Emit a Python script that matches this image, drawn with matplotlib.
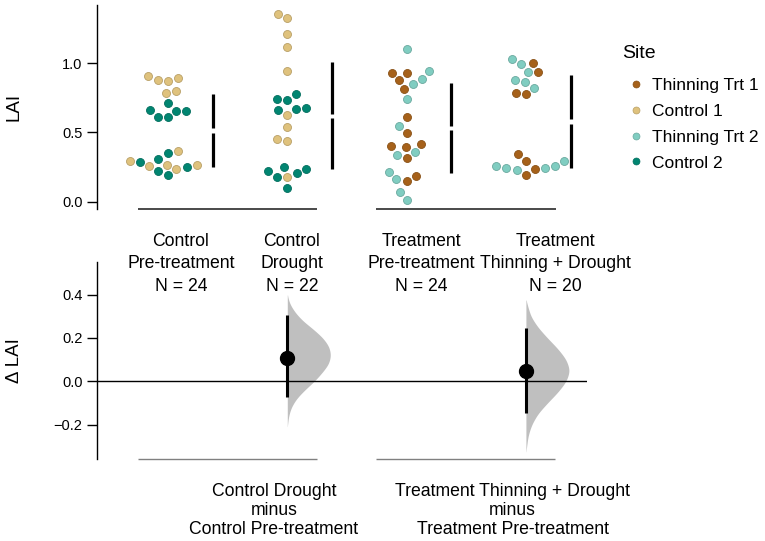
import numpy as np
import matplotlib
matplotlib.use("Agg")
import matplotlib.pyplot as plt
from matplotlib.lines import Line2D
from matplotlib.colors import to_rgb

plt.rcParams['font.family'] = ['Liberation Sans', 'DejaVu Sans']

# ---------------- data ----------------
sites = ['Thinning Trt 1', 'Control 1', 'Thinning Trt 2', 'Control 2']
site_colors = ['#a6611a', '#dfc27d', '#80cdc1', '#018571']

group_names = ['Control\nPre-treatment', 'Control\nDrought',
               'Treatment\nPre-treatment', 'Treatment\nThinning + Drought']

# Control Pre-treatment
ctrl_pre_control1 = [0.908, 0.879, 0.874, 0.894, 0.802, 0.785, 0.369, 0.267, 0.292, 0.258, 0.234, 0.267]
ctrl_pre_control2 = [0.711, 0.658, 0.660, 0.658, 0.612, 0.610, 0.354, 0.289, 0.248, 0.306, 0.220, 0.191]
# Control Drought
ctrl_dr_control1 = [1.356, 1.327, 1.214, 1.115, 0.947, 0.629, 0.540, 0.436, 0.451, 0.176]
ctrl_dr_control2 = [0.740, 0.778, 0.737, 0.663, 0.679, 0.668, 0.205, 0.236, 0.224, 0.248, 0.181, 0.097]
# Treatment Pre-treatment
trt_pre_thin1 = [0.932, 0.932, 0.882, 0.814, 0.614, 0.496, 0.419, 0.395, 0.402, 0.313, 0.186, 0.150]
trt_pre_thin2 = [1.106, 0.887, 0.850, 0.944, 0.742, 0.547, 0.340, 0.359, 0.215, 0.162, 0.070, 0.012]
# Treatment Thinning + Drought
trt_td_thin1 = [1.002, 0.939, 0.788, 0.776, 0.342, 0.294, 0.234, 0.195]
trt_td_thin2 = [1.029, 0.993, 0.935, 0.863, 0.877, 0.824, 0.241, 0.229, 0.256, 0.296, 0.243, 0.258]

# (site index, values) per group
groups = [
    [(1, ctrl_pre_control1), (3, ctrl_pre_control2)],
    [(1, ctrl_dr_control1), (3, ctrl_dr_control2)],
    [(0, trt_pre_thin1), (2, trt_pre_thin2)],
    [(0, trt_td_thin1), (2, trt_td_thin2)],
]

delta_labels = ['Control Drought\nminus\nControl Pre-treatment',
                'Treatment Thinning + Drought\nminus\nTreatment Pre-treatment']
delta_pairs = [(0, 1), (2, 3)]
delta_ci = [(-0.074, 0.306), (-0.148, 0.245)]

# bootstrap distribution profiles (delta value, relative density)
boot1_y = [0.398, 0.36, 0.32, 0.28, 0.24, 0.20, 0.16, 0.12, 0.08, 0.04, 0.0, -0.04, -0.08, -0.12, -0.16, -0.209]
boot1_d = [0.0, 0.05, 0.17, 0.35, 0.60, 0.82, 0.96, 1.0, 0.95, 0.80, 0.62, 0.40, 0.21, 0.09, 0.03, 0.0]
boot2_y = [0.375, 0.30, 0.25, 0.20, 0.15, 0.10, 0.05, 0.0, -0.05, -0.10, -0.15, -0.20, -0.25, -0.325]
boot2_d = [0.0, 0.11, 0.27, 0.49, 0.73, 0.92, 1.0, 0.92, 0.73, 0.49, 0.27, 0.13, 0.05, 0.0]
boot_profiles = [(boot1_y, boot1_d), (boot2_y, boot2_d)]

# ---------------- figure ----------------
W, H = 765, 541
fig = plt.figure(figsize=(W / 100, H / 100), dpi=100)
ax1 = fig.add_axes([97 / W, 1 - 209 / H, 490 / W, 204 / H])
ax2 = fig.add_axes([97 / W, 1 - 459 / H, 490 / W, 197 / H])
ax1.set_zorder(3)
ax1.patch.set_visible(False)
ax2.patch.set_visible(False)

xlim = (-0.595, 3.512)
for ax in (ax1, ax2):
    ax.set_xlim(*xlim)
    for s in ('top', 'right', 'bottom'):
        ax.spines[s].set_visible(False)
    ax.spines['left'].set_linewidth(1.0)
    ax.tick_params(axis='y', length=7, width=1, pad=3.5, labelsize=10.5)
    ax.tick_params(axis='x', length=0)
ax1.set_ylim(-0.0527, 1.421)
ax2.set_ylim(-0.3586, 0.5505)


def swarm_offsets(ax, ys, diam_px):
    ys = np.asarray(ys, float)
    ypx = ax.transData.transform(np.column_stack([np.zeros_like(ys), ys]))[:, 1]
    pxu = ax.transData.transform((1, 0))[0] - ax.transData.transform((0, 0))[0]
    order = np.argsort(ypx)
    placed = []
    out = np.zeros(len(ys))
    for i in order:
        y = ypx[i]
        cands = [0.0]
        for (px, py) in placed:
            dy = abs(y - py)
            if dy < diam_px:
                dx = np.sqrt(diam_px ** 2 - dy ** 2)
                cands.extend([px + dx, px - dx])
        cands.sort(key=lambda c: (abs(c), c))
        chosen = cands[-1]
        for c in cands:
            if all((c - px) ** 2 + (y - py) ** 2 >= diam_px ** 2 - 1e-6 for px, py in placed):
                chosen = c
                break
        placed.append((chosen, y))
        out[i] = chosen / pxu
    return out


def darker(c, f=0.82):
    r, g, b = to_rgb(c)
    return (r * f, g * f, b * f)


marker_s = 33
diam_px = np.sqrt(marker_s) / 72 * 100 * 1.3
means, sds = [], []
for gi, members in enumerate(groups):
    allv = np.concatenate([np.asarray(v, float) for _, v in members])
    site_idx = np.concatenate([[si] * len(v) for si, v in members])
    offs = swarm_offsets(ax1, allv, diam_px)
    for si in np.unique(site_idx):
        m = site_idx == si
        ax1.scatter(gi + offs[m], allv[m], s=marker_s, color=site_colors[si],
                    edgecolors=[darker(site_colors[si])], linewidths=0.6, zorder=3)
    mu, sd = allv.mean(), allv.std(ddof=1)
    means.append(mu)
    sds.append(sd)
    gap = 0.016
    bx = gi + 0.375
    ax1.vlines(bx, mu + gap, mu + sd, color='black', lw=2.3, zorder=4)
    ax1.vlines(bx, mu - sd, mu - gap, color='black', lw=2.3, zorder=4)

# group baselines
ybot1 = ax1.get_ylim()[0]
ybot2 = ax2.get_ylim()[0]
for a, b in delta_pairs:
    ax1.plot([a - 0.255, b + 0.25], [ybot1, ybot1], color='#3a3a3a', lw=1.3,
             clip_on=False, solid_capstyle='butt')
    ax2.plot([a - 0.255, b + 0.245], [ybot2, ybot2], color='#808080', lw=1.0,
             clip_on=False, solid_capstyle='butt')

# x tick labels (top)
counts = [sum(len(v) for _, v in members) for members in groups]
top_label_pos = [0.109, 1.039, 2.125, 3.244]
ax1.set_xticks(top_label_pos)
ax1.set_xticklabels([f"{n}\nN = {c}" for n, c in zip(group_names, counts)],
                    fontsize=12.7, linespacing=1.45)
ax1.tick_params(axis='x', pad=17)

ax1.set_yticks([0.0, 0.5, 1.0])
ax1.set_yticklabels(['0.0', '0.5', '1.0'])
ax1.set_ylabel('LAI', fontsize=13.5, va='center')
ax1.yaxis.set_label_coords(-0.169, 0.5)

# ---------------- delta plot ----------------
ax2.axhline(0, color='black', lw=1.0, zorder=2)
half_w = 0.36
for k, (a, b) in enumerate(delta_pairs):
    py, pd_ = boot_profiles[k]
    py = np.asarray(py)[::-1]
    pd_ = np.asarray(pd_)[::-1]
    yy = np.linspace(py[0], py[-1], 400)
    dd = np.interp(yy, py, pd_)
    win = np.ones(21) / 21
    dd = np.convolve(np.pad(dd, 10), win, mode='valid')
    dd = np.convolve(np.pad(dd, 10), win, mode='valid')
    dd = dd / dd.max()
    ax2.fill_betweenx(yy, b, b + dd * half_w, color='#bfbfbf', lw=0, zorder=1)
    delta = means[b] - means[a]
    lo, hi = delta_ci[k]
    ax2.vlines(b, lo, hi, color='black', lw=2.2, zorder=3)
    ax2.plot([b], [delta], 'o', color='black', ms=10, zorder=4)

ax2.set_xticks([0.889, 2.888])
ax2.set_xticklabels(delta_labels, fontsize=12.7, linespacing=1.15)
ax2.tick_params(axis='x', pad=17.5)
ax2.set_yticks([-0.2, 0.0, 0.2, 0.4])
ax2.set_yticklabels(['\u22120.2', '0.0', '0.2', '0.4'])
ax2.set_ylabel('\u0394 LAI', fontsize=13.5, va='center')
ax2.yaxis.set_label_coords(-0.169, 0.5)

# ---------------- legend ----------------
handles = [Line2D([], [], marker='o', ls='none', color=c, markersize=5,
                  markeredgewidth=0.5, markeredgecolor=darker(c))
           for c in site_colors]
leg = ax1.legend(handles, sites, title='Site', loc='upper left',
                 bbox_to_anchor=(622 / W, 1 - 44.5 / H), bbox_transform=fig.transFigure,
                 frameon=False, fontsize=12.5, title_fontsize=14, alignment='left',
                 handlelength=1.6, handletextpad=0.15, labelspacing=0.61,
                 borderpad=0, borderaxespad=0)
try:
    leg._legend_box.sep = 12.0
except Exception:
    pass

fig.savefig('out.png', dpi=100)
